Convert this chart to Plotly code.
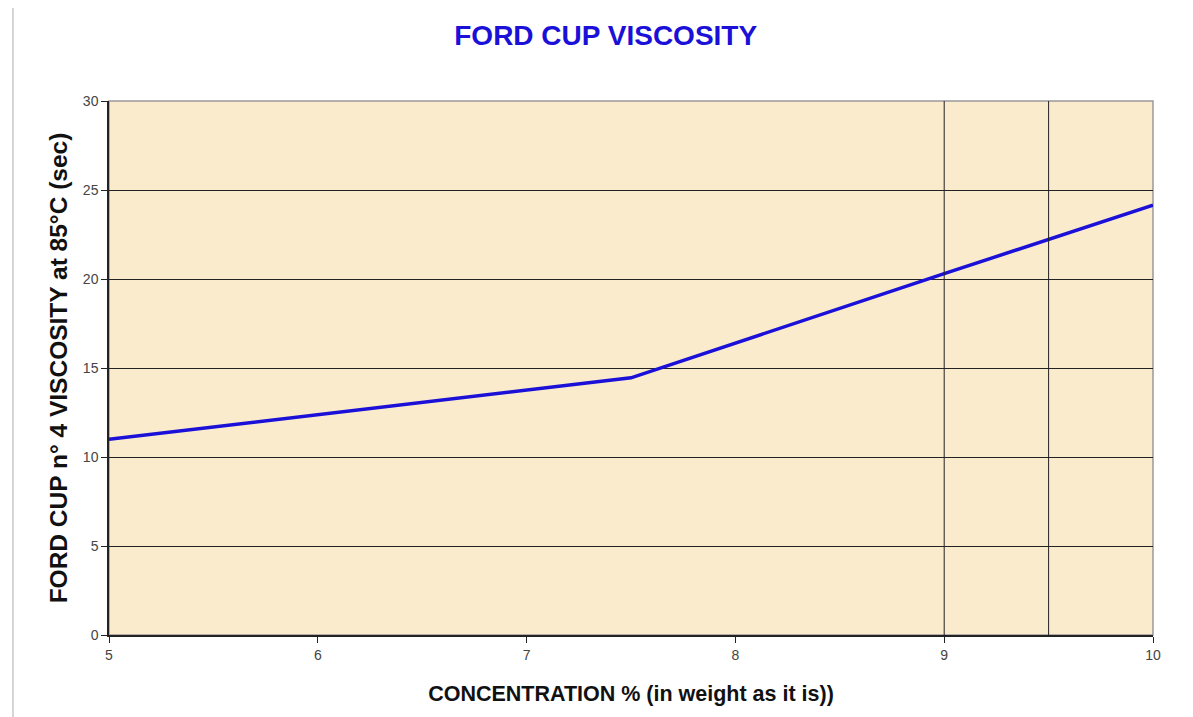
import plotly.graph_objects as go

concentration = [5, 7.5, 9, 9.5, 10]
viscosity = [11.0, 14.45, 20.3, 22.25, 24.15]
drop_lines_x = [9, 9.5]
y_ticks = [0, 5, 10, 15, 20, 25, 30]
x_ticks = [5, 6, 7, 8, 9, 10]

fig = go.Figure()
fig.add_trace(go.Scatter(x=concentration, y=viscosity, mode="lines",
                         line=dict(color="#1a10d8", width=3.5), showlegend=False))

for xv in drop_lines_x:
    fig.add_shape(type="line", xref="x", yref="y", x0=xv, x1=xv, y0=0, y1=30,
                  line=dict(color="#222222", width=1))

# page border on left
fig.add_shape(type="line", xref="paper", yref="paper", x0=-0.092, x1=-0.092, y0=-0.2, y1=1.2,
              line=dict(color="#c8c8c8", width=1.5))

fig.update_layout(
    width=1193, height=717,
    margin=dict(l=101, r=48, t=93, b=90),
    paper_bgcolor="white",
    plot_bgcolor="#faebcd",
    font=dict(family="Liberation Sans, Arial, sans-serif", color="#333333"),
    title=dict(text="<b>FORD CUP VISCOSITY</b>", x=0.501, xref="container", xanchor="center",
               y=0.962, yref="container", yanchor="middle",
               font=dict(size=28, color="#1a10d8", family="Liberation Sans, Arial, sans-serif")),
    xaxis=dict(range=[5, 10], tickvals=x_ticks, showgrid=False, zeroline=False,
               showline=True, linecolor="#222222", linewidth=1.5, mirror=False,
               ticks="outside", ticklen=6, tickcolor="#222222",
               tickfont=dict(size=14, color="#444444"),
               title=dict(text="<b>CONCENTRATION % (in weight as it is))</b>",
                          font=dict(size=21.5, color="#111111"), standoff=24)),
    yaxis=dict(range=[0, 30], tickvals=y_ticks, showgrid=True, gridcolor="#222222", gridwidth=1,
               zeroline=False, showline=True, linecolor="#222222", linewidth=1.5,
               ticks="outside", ticklen=6, tickcolor="#222222",
               tickfont=dict(size=14, color="#444444"),
               title=dict(text="<b>FORD CUP n° 4 VISCOSITY at 85°C (sec)</b>",
                          font=dict(size=24.5, color="#111111"), standoff=8)),
)

# top and right gray border of plot area
fig.add_shape(type="rect", xref="paper", yref="paper", x0=0, x1=1, y0=0, y1=1,
              line=dict(color="#9a9a9a", width=1.5), layer="below")

fig.write_html("out.html")
